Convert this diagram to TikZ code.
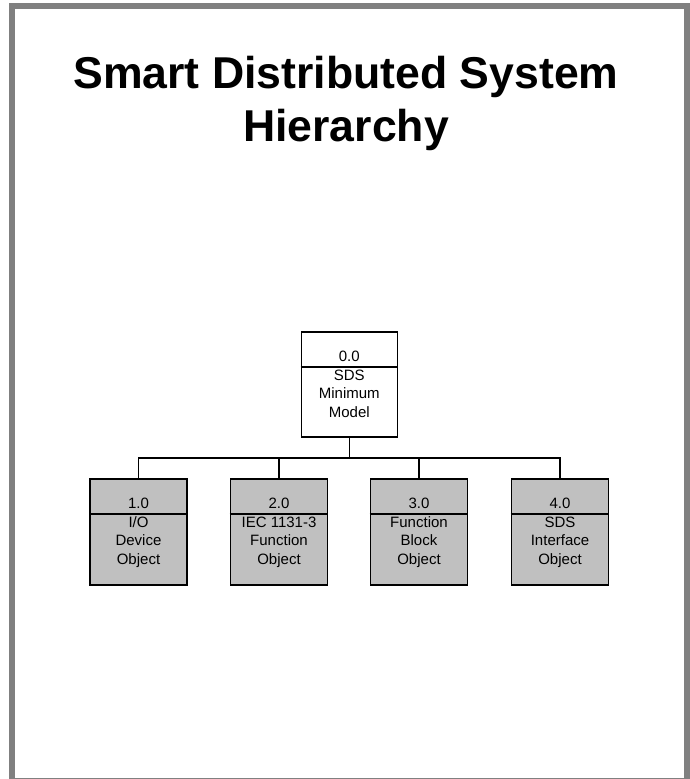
\documentclass[tikz,border=0pt]{standalone}
\usepackage{fontspec}
\setmainfont{Liberation Sans}
\definecolor{framegray}{HTML}{808080}
\definecolor{boxgray}{HTML}{C0C0C0}
\begin{document}
\begin{tikzpicture}[x=1pt,y=-1pt,
  titletext/.style={font=\fontsize{44.6}{53}\selectfont\bfseries, anchor=base, inner sep=0pt},
  rootbox/.style={draw=black, line width=1.6pt, fill=white, minimum width=96pt, minimum height=105pt, inner sep=0pt},
  leafbox/.style={draw=black, line width=1.6pt, fill=boxgray, minimum width=97pt, minimum height=106pt, inner sep=0pt},
  divider/.style={line width=1.6pt},
  numtext/.style={font=\fontsize{15}{18.5}\selectfont, anchor=base, inner sep=0pt},
  bodytext/.style={font=\fontsize{15}{18.5}\selectfont, align=center, anchor=base, inner sep=0pt},
  link/.style={line width=1.6pt}
]
\useasboundingbox (0,0) rectangle (689,779);
% outer frame
\draw[framegray, line width=6pt] (12,6) rectangle (687,781);

% title
\node[titletext] (title1) at (346,88) {Smart Distributed System};
\node[titletext] (title2) at (346,141) {Hierarchy};

% root object (base anchor of the name block sits on its last line)
\node[rootbox] (root) at (349.3,384.2) {};
\draw[divider] ([yshift=-36pt]root.north west) -- ([yshift=-36pt]root.north east);
\node[numtext] (rootnum) at (349.3,361.7) {0.0};
\node[bodytext] (rootname) at (349.3,417) {SDS\\Minimum\\Model};

% child objects
\foreach \n/\x/\num/\txt in {c1/138.5/1.0/{I/O\\Device\\Object},
                               c2/279/2.0/{IEC 1131-3\\Function\\Object},
                               c3/419/3.0/{Function\\Block\\Object},
                               c4/560/4.0/{SDS\\Interface\\Object}}{
  \node[leafbox] (\n) at (\x,532) {};
  \draw[divider] ([yshift=-36pt]\n.north west) -- ([yshift=-36pt]\n.north east);
  \node[numtext] (\n num) at (\x,508) {\num};
  \node[bodytext] (\n name) at (\x,564) {\txt};
}

% connectors
\coordinate (bus) at (349.3,458);
\draw[link] (root.south) -- (bus);
\draw[link] (c1.north) |- (bus) -| (c4.north);
\draw[link] (c2.north) -- (c2.north |- bus);
\draw[link] (c3.north) -- (c3.north |- bus);
\end{tikzpicture}
\end{document}
